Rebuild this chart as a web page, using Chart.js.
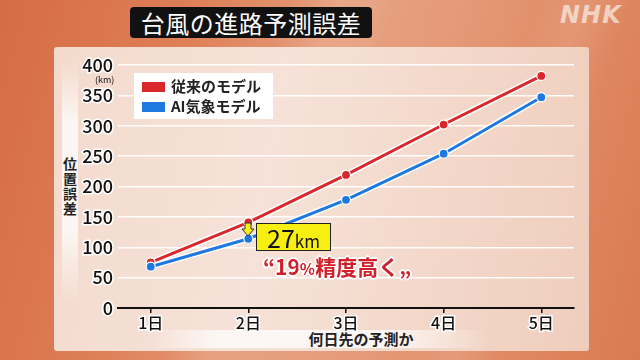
<!DOCTYPE html>
<html>
<head>
<meta charset="utf-8">
<script src="https://cdn.jsdelivr.net/npm/chart.js@4.4.1/dist/chart.umd.min.js"></script>
<style>
  body { margin: 0; width: 640px; height: 360px; overflow: hidden; font-family: "Noto Sans CJK JP", "Noto Sans", sans-serif; }
  #bg { position: absolute; left: 0; top: 0; width: 640px; height: 360px;
    background: linear-gradient(105deg, #d66c45 0%, #dd7e56 25%, #e6a07f 50%, #e59a78 62%, #e08a64 80%, #d97a52 100%); }
  #streak { position: absolute; left: 0; top: 0; width: 640px; height: 360px;
    background: linear-gradient(110deg, rgba(255,255,255,0) 38%, rgba(255,255,255,0.12) 44%, rgba(255,255,255,0) 52%, rgba(255,255,255,0) 70%, rgba(255,255,255,0.1) 76%, rgba(255,255,255,0) 82%); }
  #panel { position: absolute; left: 54px; top: 47px; width: 535px; height: 304px; border-radius: 3px;
    background: linear-gradient(100deg, #f3dacd 0%, #f6e2d8 40%, #f3d8ca 70%, #efcdbd 100%); }
  #ystrip { position: absolute; left: 62px; top: 62px; width: 16px; height: 240px;
    background: linear-gradient(180deg, rgba(255,255,255,0) 0%, rgba(255,255,255,0.75) 25%, rgba(255,255,255,0.75) 70%, rgba(255,255,255,0) 100%); }
  #xstrip { position: absolute; left: 150px; top: 330px; width: 340px; height: 18px;
    background: linear-gradient(90deg, rgba(255,255,255,0) 0%, rgba(255,255,255,0.75) 20%, rgba(255,255,255,0.75) 70%, rgba(255,255,255,0) 100%); }
  #title { position: absolute; left: 130px; top: 7px; width: 242px; height: 31px; background: #111; border-radius: 4px;
    color: #fff; font-size: 24px; line-height: 31px; text-align: center; letter-spacing: 0.5px; }
  #nhk { position: absolute; left: 560px; top: 1px; color: rgba(255,255,255,0.6); font-family: "DejaVu Sans", sans-serif;
    font-weight: bold; font-style: italic; font-size: 24px; letter-spacing: 1px; }
  #ytitle { position: absolute; left: 62px; top: 156px; width: 16px; font-size: 14px; font-weight: bold; line-height: 15px; color: #222; text-align: center; }
  #xtitle { position: absolute; left: 261px; top: 329px; width: 200px; text-align: center; font-size: 15px; font-weight: bold; color: #222; line-height: 20px; }
  #unit { position: absolute; left: 95px; top: 73px; font-size: 9px; color: #111; }
  #legend { position: absolute; left: 134px; top: 73px; width: 139px; height: 46px; background: #fff; }
  .item { position: absolute; left: 8px; height: 20px; font-size: 15px; font-weight: bold; color: #222; line-height: 20px; }
  .sw { display: inline-block; width: 23px; height: 10px; margin-right: 6px; vertical-align: -0px; }
  #chart { position: absolute; left: 0; top: 0; }
  #box27 { position: absolute; left: 256px; top: 223px; width: 73px; height: 26px; background: #f7ee12; border: 1px solid #222;
    font-size: 25px; line-height: 27px; color: #111; text-align: center; }
  #box27 small { font-size: 17px; }
  #arrow { position: absolute; left: 241px; top: 222px; }
  #pct { position: absolute; left: 263px; top: 251px; font-size: 21px; font-weight: bold; color: #d2202a;
    -webkit-text-stroke: 0; text-shadow: 0 0 2px #fff, 1px 1px 0 #fff, -1px -1px 0 #fff, 1px -1px 0 #fff, -1px 1px 0 #fff, 2px 0 0 #fff, -2px 0 0 #fff, 0 2px 0 #fff, 0 -2px 0 #fff; }
  #pct .s { font-size: 16px; }
</style>
</head>
<body>
<div id="bg"></div>
<div id="streak"></div>
<div id="panel"></div>
<div id="ystrip"></div>
<div id="xstrip"></div>
<div id="title">台風の進路予測誤差</div>
<div id="nhk">NHK</div>
<div id="ytitle">位<br>置<br>誤<br>差</div>
<div id="xtitle">何日先の予測か</div>
<canvas id="chart" width="640" height="360"></canvas>
<div id="unit">(km)</div>
<div id="legend">
  <div class="item" style="top:3px"><span class="sw" style="background:#d8282b"></span>従来のモデル</div>
  <div class="item" style="top:23px"><span class="sw" style="background:#1f78e0"></span>AI気象モデル</div>
</div>
<svg id="arrow" width="14" height="16" viewBox="0 0 14 16">
  <polygon points="4,1 10,1 10,7 13,7 7,14 1,7 4,7" fill="#f7ee12" stroke="#333" stroke-width="1"/>
</svg>
<div id="box27">27<small>km</small></div>
<div id="pct">“19<span class="s">%</span>精度高く„</div>

<script>
// 予測日数と誤差(km)
const days = [1, 2, 3, 4, 5];
const dayLabels = ['1日', '2日', '3日', '4日', '5日'];
const conventional = [75, 141, 219, 302, 382];
const aiModel = [68, 114, 178, 254, 347];
const yTicks = [0, 50, 100, 150, 200, 250, 300, 350, 400];

const RED = '#d8282b';
const BLUE = '#1f78e0';

function pts(vals) {
  return days.map((d, i) => ({ x: d, y: vals[i] }));
}

const ctx = document.getElementById('chart');
new Chart(ctx, {
  type: 'line',
  data: {
    datasets: [
      { data: pts(aiModel), borderColor: BLUE, backgroundColor: BLUE, borderWidth: 3, pointRadius: 4.5,
        pointBorderColor: '#fff', pointBorderWidth: 1.2, order: 0 },
      { data: pts(aiModel), borderColor: '#fff', borderWidth: 6, pointRadius: 0, order: 1 },
      { data: pts(conventional), borderColor: RED, backgroundColor: RED, borderWidth: 3, pointRadius: 4.5,
        pointBorderColor: '#fff', pointBorderWidth: 1.2, order: 2 },
      { data: pts(conventional), borderColor: '#fff', borderWidth: 6, pointRadius: 0, order: 3 }
    ]
  },
  options: {
    responsive: false,
    animation: false,
    layout: { padding: { left: 0, right: 66, top: 65, bottom: 0 } },
    plugins: { legend: { display: false }, tooltip: { enabled: false } },
    scales: {
      x: {
        type: 'linear',
        min: 0.665,
        max: 5.335,
        afterBuildTicks: s => { s.ticks = days.map(v => ({ value: v })); },
        afterFit: s => { s.height = 52; },
        grid: { drawOnChartArea: false, drawTicks: true, tickLength: 5, color: '#111', lineWidth: 1.5 },
        border: { display: true, color: '#111', width: 2 },
        ticks: {
          callback: v => dayLabels[days.indexOf(v)],
          padding: 0,
          maxRotation: 0,
          color: '#111',
          font: { family: '"Noto Sans CJK JP"', size: 16, weight: '500' },
          textStrokeColor: '#fff',
          textStrokeWidth: 3
        }
      },
      y: {
        min: 0,
        max: 400,
        afterBuildTicks: s => { s.ticks = yTicks.map(v => ({ value: v })); },
        afterFit: s => { s.width = 118; },
        grid: { drawTicks: false, color: 'rgba(255,255,255,0.95)', lineWidth: 1.5 },
        border: { display: false },
        ticks: {
          padding: 5,
          color: '#111',
          font: { family: '"Noto Sans CJK JP"', size: 18, weight: '500' },
          textStrokeColor: '#fff',
          textStrokeWidth: 3
        }
      }
    }
  }
});
</script>
</body>
</html>
